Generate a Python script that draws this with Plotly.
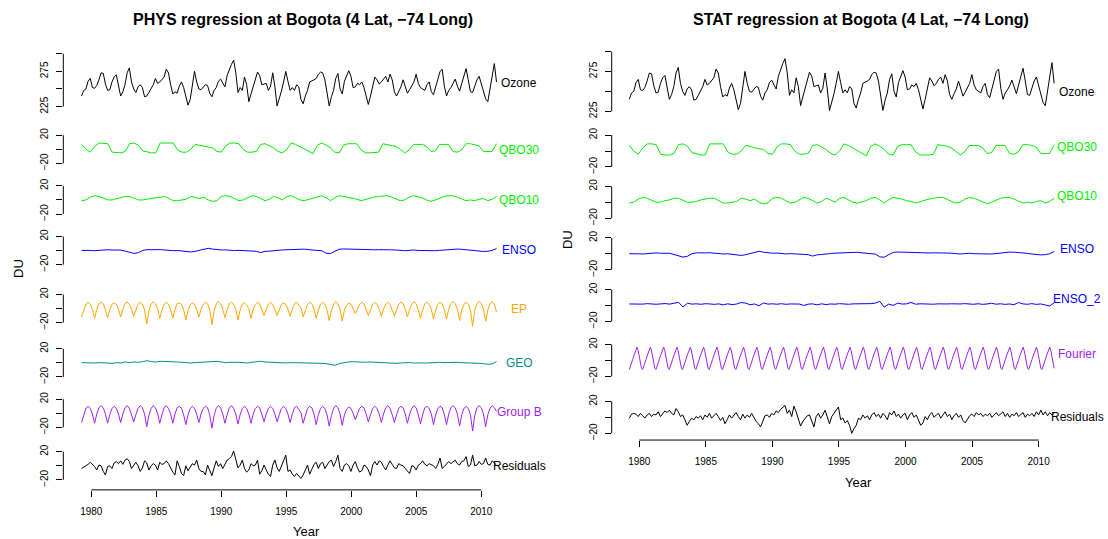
import numpy as np
import plotly.graph_objects as go

# ---------------- data (DU) ----------------
START_YEAR, END_YEAR = 1979.25, 2011.17
YEAR_TICKS = [1980, 1985, 1990, 1995, 2000, 2005, 2010]

# bimonthly
OZONE = [240,248,250,261,265,252,251,255,263,273,272,257,248,249,260,267,270,252,240,246,
         256,273,280,260,250,245,253,256,252,239,240,245,250,256,265,258,260,263,267,278,
         273,256,243,246,244,254,260,252,238,227,235,256,275,260,250,249,252,256,255,244,
         239,248,252,261,264,258,253,269,278,285,291,273,245,252,248,267,256,232,243,253,
         264,274,269,256,257,258,248,254,273,253,226,235,247,260,275,261,248,252,248,256,
         253,235,229,240,248,260,261,263,265,271,274,273,263,246,226,239,248,265,272,250,
         243,261,270,276,268,252,253,258,256,260,252,238,228,240,253,267,263,257,260,265,
         268,260,271,263,246,240,247,253,263,252,244,249,254,260,271,258,252,250,248,256,
         260,246,242,253,265,275,278,254,240,248,252,257,264,254,247,258,270,279,263,246,
         245,254,263,268,256,244,236,232,249,265,286,260]

# four-monthly
QBO30 = [7,0,-4,4,9,9,8,-4,-5,-5,-3,8,9,6,-2,-4,-5,-5,9,9,9,9,-1,-4,-4,0,7,6,4,3,2,-3,
         -4,5,9,9,8,0,-4,-4,-3,7,8,5,2,-3,-5,0,9,7,4,1,-3,-6,6,9,6,2,-4,-5,6,8,8,8,
         -1,-5,-5,-5,-4,8,7,6,4,0,-5,-1,7,7,7,4,-3,-2,7,7,7,-3,-4,-1,8,8,7,5,-3,-3,-3,8]

QBO10 = [-1,0,4,6,5,2,0,0,2,3,5,5,3,0,0,1,3,4,5,5,2,-1,-1,0,1,5,4,2,4,0,-2,-1,
         5,6,5,2,-1,0,3,6,5,2,-1,1,5,3,0,5,6,3,0,-1,1,2,5,6,3,-1,3,6,5,4,
         2,1,-1,1,3,4,5,6,6,4,1,-1,0,4,6,5,3,0,-2,0,3,5,6,6,4,1,-1,0,-1,1,2,-1,1,5]

ENSO = [0.2,-0.3,0.1,-0.2,0.4,0.9,1.2,0.8,1.1,0.7,-0.8,-2.2,-4.1,-3.0,0.2,1.3,0.9,1.2,1.4,0.8,
        0.3,-0.2,0.1,-0.7,-1.2,-2.0,-1.1,0.3,1.9,3.2,2.1,1.2,0.8,1.0,0.2,-0.1,0.3,-0.2,0.1,-0.4,
        -1.0,-2.8,-1.2,-0.8,0.1,0.4,0.9,1.2,1.5,1.1,1.8,2.0,1.3,1.0,0.7,-0.3,-3.8,-4.2,-1.1,1.8,
        2.3,2.0,2.2,1.7,1.2,1.0,0.7,1.1,1.3,0.9,0.6,1.0,0.8,0.2,-0.2,0.3,0.8,0.2,-0.1,-0.3,
        0.1,-0.2,0.3,1.0,1.7,2.2,2.1,1.8,1.0,0.6,-0.2,-0.9,-1.3,-1.0,0.2,2.8]

ENSO_2 = [2.0,1.7,2.2,1.8,2.4,1.9,1.6,2.1,2.5,1.8,3.0,4.1,-1.8,2.9,1.8,2.2,1.6,2.3,2.0,1.5,
          2.1,0.9,2.2,1.2,1.9,3.8,3.1,1.0,2.0,-0.2,3.2,1.8,2.2,1.7,2.3,1.6,2.0,2.4,1.9,0.2,
          1.8,2.1,0.9,2.2,1.2,2.0,1.7,2.4,1.9,1.6,2.1,2.2,2.5,1.8,2.4,3.1,5.2,-1.9,1.8,0.2,
          3.0,1.9,2.1,3.9,1.7,2.2,1.9,2.4,1.7,2.1,1.6,2.0,2.2,1.7,2.0,2.4,2.1,1.6,2.3,1.5,
          2.0,2.9,1.7,2.2,1.5,2.0,1.1,3.8,2.1,1.6,2.4,1.5,2.0,1.0,-0.5,3.5]

GEO = [0.3,-0.2,-0.7,-0.2,0.3,-0.2,0.3,-0.7,0.3,-0.2,1.2,0.3,1.2,0.8,1.7,3.1,1.7,1.2,2.2,1.7,
       2.2,1.7,1.2,0.8,-0.2,-0.2,0.3,0.8,1.2,2.2,2.6,2.2,1.2,0.3,0.8,1.2,0.8,0.3,-0.2,0.8,
       1.7,2.2,1.2,0.8,0.3,-0.2,-0.7,-0.2,0.3,0.3,0.3,-0.2,0.3,-0.2,-0.7,-0.7,-1.1,-2.5,-3.5,-1.1,
       0.3,1.2,1.7,1.2,0.3,0.8,1.2,0.8,0.3,0.3,-0.2,-0.7,-0.7,-0.2,0.3,0.3,-0.2,0.3,-0.2,-0.2,
       0.3,0.3,0.8,0.3,0.8,1.2,0.8,0.3,0.3,-0.2,-0.2,-0.7,-1.1,-2.1,-1.6,1.7]

# bimonthly, one row per year (Apr, Jun, Aug, Oct, Dec, Feb)
EP = [-12,-2,6,9,6,-1,  -14,-1,7,9,7,-2,  -13,-2,6,8,6,-1,  -12,-1,7,9,6,-1,
      -11,-2,6,9,7,-2,  -22,-3,6,10,7,0,  -14,-2,6,9,6,-1,  -14,-1,7,8,6,-2,
      -16,-3,5,8,6,-1,  -12,-1,6,9,7,-2,  -23,-3,6,10,7,-1, -13,-2,7,9,6,-1,
      -16,-2,6,8,5,0,   -14,-1,6,9,7,-2,  -10,-1,6,9,6,-1,  -10,-2,6,8,6,-1,
      -11,-1,7,9,5,1,   -12,-2,6,9,7,-1,  -14,-2,6,9,6,-2,  -17,-3,6,10,7,-1,
      -18,-2,5,8,6,0,   -7,-1,6,9,7,-1,   -10,-2,6,9,6,-1,  -11,-1,7,9,6,-2,
      -11,-2,6,9,7,-1,  -12,-1,6,10,7,-2, -14,-2,7,9,6,-1,  -15,-2,6,9,7,-2,
      -15,-1,7,10,7,-1, -17,-2,6,9,6,-2,  -25,-3,7,10,7,-1, -18,-2,6,10,6,-5]

GROUP_B = [-13,-2,7,10,7,-1,  -14,-1,8,11,8,-1,  -14,-2,7,10,7,-1,  -13,-1,8,11,7,-2,
           -12,-2,7,11,8,-1,  -19,-3,7,11,8,0,   -14,-2,8,11,7,-1,  -14,-1,8,10,7,-2,
           -16,-2,7,10,7,-1,  -13,-1,7,10,8,-2,  -21,-3,7,11,8,-1,  -14,-2,8,11,7,-1,
           -15,-2,7,10,7,-1,  -14,-1,7,10,8,-2,  -12,-1,7,10,7,-1,  -12,-2,7,10,7,-1,
           -13,-1,8,10,6,1,   -14,-2,7,10,8,-1,  -16,-2,7,10,7,-2,  -18,-3,7,11,8,-1,
           -17,-2,6,9,7,0,    -9,-1,7,10,8,-1,   -12,-2,7,10,7,-1,  -13,-1,8,11,7,-2,
           -13,-2,7,10,8,-1,  -14,-1,7,11,8,-2,  -15,-2,8,10,7,-1,  -16,-2,7,10,8,-2,
           -16,-1,8,11,8,-1,  -18,-2,7,10,7,-2,  -25,-3,8,11,8,-1,  -19,-2,7,11,8,3]

# monthly, one row per year (Apr ... Mar)
FOURIER = [
    -11.5,-8,-3.5,1,5.5,10,14,16.5,12,4,-4,-10, -11.5,-8,-3.5,1,5.5,10,14,16.5,12,4,-4,-10,
    -11.5,-8,-3.5,1,5.5,10,14,16.5,12,4,-4,-10, -11.5,-8,-3.5,1,5.5,10,14,16.5,12,4,-4,-10,
    -11.5,-8,-3.5,1,5.5,10,14,16.5,12,4,-4,-10, -11.5,-8,-3.5,1,5.5,10,14,16.5,12,4,-4,-10,
    -11.5,-8,-3.5,1,5.5,10,14,16.5,12,4,-4,-10, -11.5,-8,-3.5,1,5.5,10,14,16.5,12,4,-4,-10,
    -11.5,-8,-3.5,1,5.5,10,14,16.5,12,4,-4,-10, -11.5,-8,-3.5,1,5.5,10,14,16.5,12,4,-4,-10,
    -11.5,-8,-3.5,1,5.5,10,14,16.5,12,4,-4,-10, -11.5,-8,-3.5,1,5.5,10,14,16.5,12,4,-4,-10,
    -11.5,-8,-3.5,1,5.5,10,14,16.5,12,4,-4,-10, -11.5,-8,-3.5,1,5.5,10,14,16.5,12,4,-4,-10,
    -11.5,-8,-3.5,1,5.5,10,14,16.5,12,4,-4,-10, -11.5,-8,-3.5,1,5.5,10,14,16.5,12,4,-4,-10,
    -11.5,-8,-3.5,1,5.5,10,14,16.5,12,4,-4,-10, -11.5,-8,-3.5,1,5.5,10,14,16.5,12,4,-4,-10,
    -11.5,-8,-3.5,1,5.5,10,14,16.5,12,4,-4,-10, -11.5,-8,-3.5,1,5.5,10,14,16.5,12,4,-4,-10,
    -11.5,-8,-3.5,1,5.5,10,14,16.5,12,4,-4,-10, -11.5,-8,-3.5,1,5.5,10,14,16.5,12,4,-4,-10,
    -11.5,-8,-3.5,1,5.5,10,14,16.5,12,4,-4,-10, -11.5,-8,-3.5,1,5.5,10,14,16.5,12,4,-4,-10,
    -11.5,-8,-3.5,1,5.5,10,14,16.5,12,4,-4,-10, -11.5,-8,-3.5,1,5.5,10,14,16.5,12,4,-4,-10,
    -11.5,-8,-3.5,1,5.5,10,14,16.5,12,4,-4,-10, -11.5,-8,-3.5,1,5.5,10,14,16.5,12,4,-4,-10,
    -11.5,-8,-3.5,1,5.5,10,14,16.5,12,4,-4,-10, -11.5,-8,-3.5,1,5.5,10,14,16.5,12,4,-4,-10,
    -11.5,-8,-3.5,1,5.5,10,14,16.5,12,4,-4,-10, -11.5,-8,-3.5,1,5.5,10,14,16.5,12,4,-4,-10,
]

# bimonthly
RESID_PHYS = [-4,-2,-1,2,5,2,-1,-6,1,0,-8,-13,-1,0,-4,4,6,3,7,2,8,10,6,-4,0,5,0,-8,-3,7,
              4,-6,0,3,1,-6,5,2,3,7,3,-4,-9,-13,7,-1,-11,-14,0,-7,-1,3,1,8,-4,-8,-8,-13,1,-6,
              -14,-3,7,-1,3,-4,1,8,10,13,21,7,-3,1,8,-4,-9,-6,3,0,1,8,-12,-7,1,-6,-12,-15,1,8,
              -3,-8,0,8,15,-8,-6,-12,-15,-11,-14,-18,-13,-6,1,-12,-4,2,5,-4,3,5,-4,1,6,8,-1,6,15,-4,
              -8,1,3,0,-8,1,6,-3,-9,-7,1,-1,-6,-14,1,6,1,7,5,-1,-6,1,7,2,-3,-4,3,1,0,-4,
              -8,-11,0,-1,-6,1,3,7,2,0,3,1,0,-4,2,11,-4,-1,2,6,3,5,8,3,1,6,7,13,-1,1,
              15,0,1,6,2,3,11,2,1,7,4,1]

RESID_STAT = [-1,4,5,4,1,5,2,-1,3,5,1,4,3,7,1,5,8,6,9,5,3,11,7,1,3,-3,-10,-5,-1,-3,
              1,-1,2,-3,3,0,5,-1,2,5,1,-4,0,-8,-3,3,-1,2,6,1,-3,4,-1,3,0,5,-1,-5,-8,-12,
              -5,2,3,0,5,3,8,6,10,12,15,5,9,1,14,7,-3,-11,-5,-1,2,3,-4,-12,1,5,-1,3,9,-1,
              -8,1,5,10,13,-3,-1,-7,-4,-10,-20,-14,-10,-1,-3,3,-1,2,-3,3,6,1,4,-1,5,2,-3,6,3,8,
              1,4,-1,3,5,-3,3,6,0,3,-4,-10,-7,1,-3,3,6,0,3,5,-1,3,7,1,4,-3,2,5,0,3,
              -4,-7,-3,2,4,1,6,3,5,1,4,2,5,0,3,6,2,4,7,1,5,0,4,2,6,1,3,6,0,4,
              2,5,1,7,3,9,3,7,2,6,3,5]

# ---------------- layout helpers (pixels of the 1108x539 page) ----------------
W, H = 1108, 539
FONT = "Liberation Sans"
GREEN, BLUE, ORANGE, TEAL, PURPLE = "#00ee00", "#0000ff", "#ffa500", "#008b8b", "#a020f0"


def px_x(p):
    return p / W


def px_y(p):
    return 1 - p / H


def times(n):
    return np.linspace(START_YEAR, END_YEAR, n)


OZ_TICKS = ([225, 250, 275, 300], ["225", "", "275", ""])
DU_TICKS = ([-20, 0, 20], ["\u221220", "", "20"])

# name, values, colour, ticks, (pixel of ref value, ref value), strip top, strip bottom, label y
panels = [
    dict(title="<b>PHYS regression at Bogota (4 Lat, \u221274 Long)</b>", title_x=303, title_y=20,
         xdom=(63.3, 515), x1980=91.3, pxyr=13.0, xaxis_y=491.7, year_xy=(306, 533),
         du_xy=(19, 270), scale=0.707, label_x=519,
         strips=[
             ("Ozone", OZONE, "black", OZ_TICKS, (107.0, 225), 40, 125, 83),
             ("QBO30", QBO30, GREEN, DU_TICKS, (149.9, 0), 125, 175, 151),
             ("QBO10", QBO10, GREEN, DU_TICKS, (200.7, 0), 175, 226, 201),
             ("ENSO", ENSO, BLUE, DU_TICKS, (251.5, 0), 226, 280, 251),
             ("EP", EP, ORANGE, DU_TICKS, (309.7, 0), 280, 337, 310),
             ("GEO", GEO, TEAL, DU_TICKS, (364.2, 0), 337, 390, 364),
             ("Group B", GROUP_B, PURPLE, DU_TICKS, (414.9, 0), 390, 441, 414),
             ("Residuals", RESID_PHYS, "black", DU_TICKS, (467.5, 0), 441, 488, 468),
         ]),
    dict(title="<b>STAT regression at Bogota (4 Lat, \u221274 Long)</b>", title_x=861, title_y=20,
         xdom=(611.7, 1062), x1980=639.3, pxyr=13.31, xaxis_y=441.7, year_xy=(858, 484),
         du_xy=(567, 240), scale=0.8, label_x=1077,
         strips=[
             ("Ozone", OZONE, "black", OZ_TICKS, (111.7, 225), 38, 125, 92.3),
             ("QBO30", QBO30, GREEN, DU_TICKS, (151.6, 0), 125, 178, 147.3),
             ("QBO10", QBO10, GREEN, DU_TICKS, (203.0, 0), 178, 229, 196.7),
             ("ENSO", ENSO, BLUE, DU_TICKS, (254.8, 0), 229, 281, 250),
             ("ENSO_2", ENSO_2, BLUE, DU_TICKS, (306.7, 0), 281, 334, 300),
             ("Fourier", FOURIER, PURPLE, DU_TICKS, (361.7, 0), 334, 390, 355),
             ("Residuals", RESID_STAT, "black", DU_TICKS, (418.9, 0), 390, 440, 418.3),
         ]),
]

fig = go.Figure()
layout = {}
shapes = []
annotations = []
ax_i = 0
for pi, panel in enumerate(panels):
    xname = "x" if pi == 0 else "x2"
    xkey = "xaxis" if pi == 0 else "xaxis2"
    x0p, x1p = panel["xdom"]
    r0 = 1980 - (panel["x1980"] - x0p) / panel["pxyr"]
    r1 = 1980 + (x1p - panel["x1980"]) / panel["pxyr"]
    layout[xkey] = dict(domain=[px_x(x0p), px_x(x1p)], range=[r0, r1], anchor="free",
                        position=px_y(panel["xaxis_y"]), tickvals=YEAR_TICKS,
                        ticktext=[str(t) for t in YEAR_TICKS], ticks="outside", ticklen=6,
                        tickwidth=1, tickcolor="black", showgrid=False, zeroline=False,
                        showline=False, tickfont=dict(family=FONT, size=10, color="black"),
                        ticklabelstandoff=6)
    shapes.append(dict(type="line", xref=xname, yref="paper", x0=YEAR_TICKS[0], x1=YEAR_TICKS[-1],
                       y0=px_y(panel["xaxis_y"]), y1=px_y(panel["xaxis_y"]),
                       line=dict(color="black", width=1)))
    s = panel["scale"]
    for (name, vals, color, (tv, tt), (pref, vref), top, bot, laby) in panel["strips"]:
        ax_i += 1
        yname = "y" if ax_i == 1 else f"y{ax_i}"
        ykey = "yaxis" if ax_i == 1 else f"yaxis{ax_i}"
        fig.add_trace(go.Scatter(x=times(len(vals)), y=vals, mode="lines",
                                 line=dict(color=color, width=1), xaxis=xname, yaxis=yname,
                                 showlegend=False, hoverinfo="skip"))
        layout[ykey] = dict(domain=[px_y(bot), px_y(top)],
                            range=[vref - (bot - pref) / s, vref + (pref - top) / s],
                            anchor=xname, tickvals=tv, ticktext=tt, ticks="outside", ticklen=6,
                            tickwidth=1, tickcolor="black", tickangle=-90, showgrid=False,
                            zeroline=False, showline=False,
                            tickfont=dict(family=FONT, size=10, color="black"),
                            ticklabelstandoff=4)
        shapes.append(dict(type="line", xref="paper", yref=yname, x0=px_x(x0p), x1=px_x(x0p),
                           y0=tv[0], y1=tv[-1], line=dict(color="black", width=1)))
        annotations.append(dict(text=name, xref="paper", yref="paper", x=px_x(panel["label_x"]),
                                y=px_y(laby), xanchor="center", yanchor="middle", showarrow=False,
                                font=dict(family=FONT, size=12, color=color)))
    annotations.append(dict(text=panel["title"], xref="paper", yref="paper",
                            x=px_x(panel["title_x"]), y=px_y(panel["title_y"]), xanchor="center",
                            yanchor="middle", showarrow=False,
                            font=dict(family=FONT, size=16, color="black")))
    yx, yy = panel["year_xy"]
    annotations.append(dict(text="Year", xref="paper", yref="paper", x=px_x(yx), y=px_y(yy),
                            xanchor="center", yanchor="middle", showarrow=False,
                            font=dict(family=FONT, size=13, color="black")))
    dx, dy = panel["du_xy"]
    annotations.append(dict(text="DU", xref="paper", yref="paper", x=px_x(dx), y=px_y(dy),
                            xanchor="center", yanchor="middle", showarrow=False, textangle=-90,
                            font=dict(family=FONT, size=13, color="black")))

fig.update_layout(width=W, height=H, margin=dict(l=0, r=0, t=0, b=0),
                  paper_bgcolor="white", plot_bgcolor="white", showlegend=False,
                  shapes=shapes, annotations=annotations, **layout)
fig.write_html("out.html")
